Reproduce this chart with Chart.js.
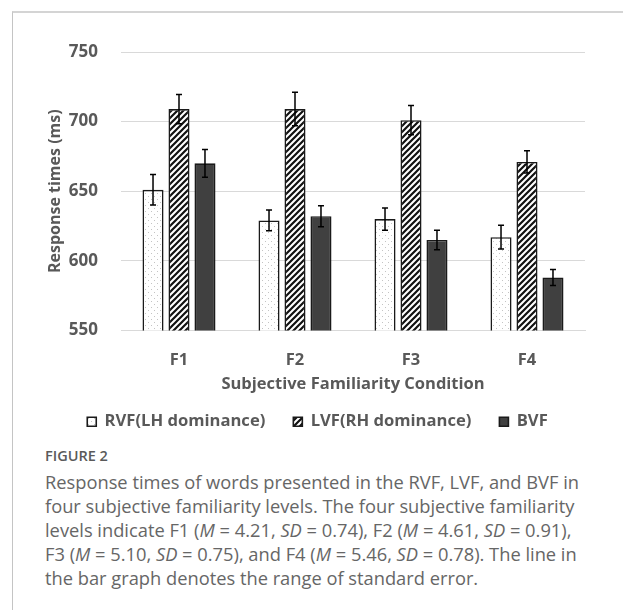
<!DOCTYPE html>
<html>
<head>
<meta charset="utf-8">
<script src="https://cdn.jsdelivr.net/npm/chart.js@4.4.1/dist/chart.umd.min.js"></script>
<style>
  html, body { margin: 0; padding: 0; background: #fff; }
  body { width: 623px; height: 610px; position: relative; overflow: hidden; }
  .frame {
    position: absolute; left: 12px; top: 11px; width: 640px; height: 640px;
    border-left: 1px solid #c4c4c4; border-top: 2px solid #d4d4d4;
  }
  .chart-box { position: absolute; left: 12px; top: 12px; width: 611px; height: 432px; }
  .fig-label {
    position: absolute; left: 45px; top: 446px;
    font: 600 14.5px "Open Sans", sans-serif; color: #5a5a5a;
  }
  .caption {
    position: absolute; left: 45px; top: 470px; width: 578px;
    font: 18.3px/24px "Open Sans", sans-serif; color: #666;
  }
  .caption div { white-space: nowrap; }
</style>
</head>
<body>
<div class="frame"></div>
<div class="chart-box"><canvas id="chart" width="611" height="432"></canvas></div>
<div class="fig-label">FIGURE 2</div>
<div class="caption">
  <div>Response times of words presented in the RVF, LVF, and BVF in</div>
  <div>four subjective familiarity levels. The four subjective familiarity</div>
  <div>levels indicate F1 (<i>M</i> = 4.21, <i>SD</i> = 0.74), F2 (<i>M</i> = 4.61, <i>SD</i> = 0.91),</div>
  <div>F3 (<i>M</i> = 5.10, <i>SD</i> = 0.75), and F4 (<i>M</i> = 5.46, <i>SD</i> = 0.78). The line in</div>
  <div>the bar graph denotes the range of standard error.</div>
</div>
<script>
const conditions = ['F1', 'F2', 'F3', 'F4'];
const rvfTimes = [651, 629, 630, 617];
const lvfTimes = [709, 709, 701, 671];
const bvfTimes = [670, 632, 615, 588];
const rvfErrors = [11, 7.5, 8, 8.5];
const lvfErrors = [10.5, 12, 10.5, 8];
const bvfErrors = [10, 7.5, 7, 5.7];
const yTicks = [550, 600, 650, 700, 750];

const textGray = '#595959';
const canvas = document.getElementById('chart');
const ctx = canvas.getContext('2d');

// small tiles for the fill patterns
function makeTile(draw) {
  const tile = document.createElement('canvas');
  tile.width = 6;
  tile.height = 6;
  const g = tile.getContext('2d');
  g.fillStyle = '#fff';
  g.fillRect(0, 0, 6, 6);
  draw(g);
  return ctx.createPattern(tile, 'repeat');
}

const dotFill = makeTile(g => {
  g.fillStyle = '#c4c4c4';
  g.fillRect(1, 1, 1, 1);
  g.fillRect(4, 4, 1, 1);
});

const hatchFill = makeTile(g => {
  g.strokeStyle = '#111';
  g.lineWidth = 2.2;
  g.beginPath();
  g.moveTo(-1, 7); g.lineTo(7, -1);
  g.moveTo(-1, 1); g.lineTo(1, -1);
  g.moveTo(5, 7); g.lineTo(7, 5);
  g.stroke();
});

const errorsByDataset = [rvfErrors, lvfErrors, bvfErrors];

const errorBars = {
  id: 'errorBars',
  afterDatasetsDraw(chart) {
    const c = chart.ctx;
    const yScale = chart.scales.y;
    c.save();
    c.strokeStyle = '#000';
    c.lineWidth = 1.5;
    chart.data.datasets.forEach((ds, i) => {
      chart.getDatasetMeta(i).data.forEach((bar, j) => {
        const v = ds.data[j];
        const e = errorsByDataset[i][j];
        const top = yScale.getPixelForValue(v + e);
        const bot = yScale.getPixelForValue(v - e);
        c.beginPath();
        c.moveTo(bar.x, top); c.lineTo(bar.x, bot);
        c.moveTo(bar.x - 3, top); c.lineTo(bar.x + 3, top);
        c.moveTo(bar.x - 3, bot); c.lineTo(bar.x + 3, bot);
        c.stroke();
      });
    });
    c.restore();
  }
};

const barStyle = {
  borderColor: '#1a1a1a',
  borderWidth: 1.6,
  borderSkipped: false,
  categoryPercentage: 0.672,
  barPercentage: 0.81
};

new Chart(ctx, {
  type: 'bar',
  data: {
    labels: conditions,
    datasets: [
      { label: 'RVF(LH dominance)', data: rvfTimes, backgroundColor: dotFill, ...barStyle },
      { label: 'LVF(RH dominance)', data: lvfTimes, backgroundColor: hatchFill, ...barStyle },
      { label: 'BVF', data: bvfTimes, backgroundColor: '#404040', ...barStyle }
    ]
  },
  options: {
    responsive: false,
    animation: false,
    layout: { padding: { top: 40, right: 0, bottom: 4, left: 0 } },
    plugins: {
      tooltip: { enabled: false },
      legend: {
        position: 'bottom',
        labels: {
          boxWidth: 9,
          boxHeight: 9,
          padding: 28,
          color: textGray,
          font: { family: 'Open Sans', size: 16.6, weight: 'bold' }
        }
      }
    },
    scales: {
      x: {
        grid: { display: false },
        border: { color: '#d9d9d9', width: 1 },
        ticks: {
          color: textGray,
          padding: 12,
          font: { family: 'Open Sans', size: 16.5, weight: 'bold' }
        },
        title: {
          display: true,
          text: 'Subjective Familiarity Condition',
          color: textGray,
          padding: { top: 0, bottom: -9 },
          font: { family: 'Open Sans', size: 16.5, weight: 'bold' }
        },
        afterFit(scale) { scale.height = 55; }
      },
      y: {
        min: 550,
        max: 750,
        afterBuildTicks(scale) { scale.ticks = yTicks.map(v => ({ value: v })); },
        grid: { color: '#d9d9d9', lineWidth: 1, drawTicks: false },
        border: { display: false },
        ticks: {
          color: textGray,
          padding: 23,
          font: { family: 'Open Sans', size: 17, weight: 'bold' }
        },
        title: {
          display: true,
          text: 'Response times (ms)',
          color: textGray,
          padding: { top: 34, bottom: 0 },
          font: { family: 'Open Sans', size: 16, weight: 'bold' }
        },
        afterFit(scale) { scale.width = 109; }
      },
      // empty right-hand axis: keeps the white margin right of the plot
      // while the legend stays centred on the whole figure
      spacer: {
        type: 'linear',
        axis: 'y',
        position: 'right',
        grid: { display: false },
        border: { display: false },
        ticks: { display: false },
        afterFit(scale) { scale.width = 38; }
      }
    }
  },
  plugins: [errorBars]
});
</script>
</body>
</html>
